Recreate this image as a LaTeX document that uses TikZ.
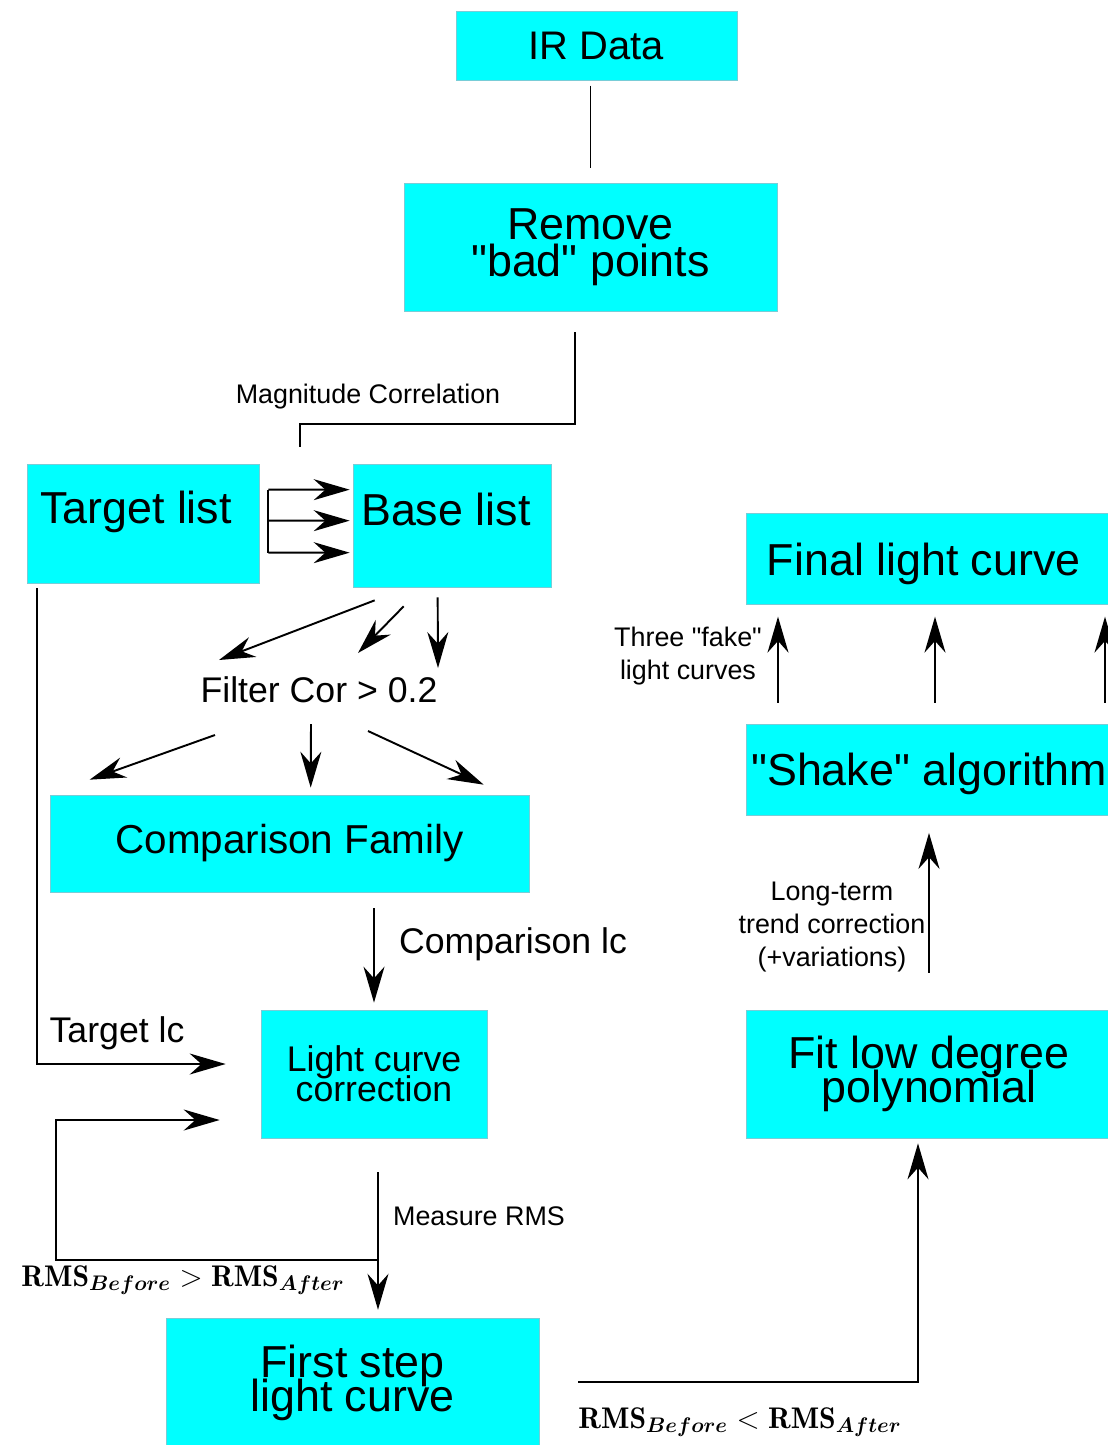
\documentclass[tikz,border=0pt]{standalone}
\usepackage{amsmath}
\usepackage{fontspec}
\setsansfont{Liberation Sans}
\usepackage{tikz}
\usetikzlibrary{arrows.meta, calc, positioning}
\definecolor{boxcyan}{RGB}{0,255,255}
\definecolor{boxedge}{RGB}{120,205,215}

\newcommand{\rmsbefore}{\mathbf{RMS}_{\boldsymbol{Before}}}
\newcommand{\rmsafter}{\mathbf{RMS}_{\boldsymbol{After}}}
\newcommand{\dq}{\textquotedbl}
\newcommand{\tightlines}{\lineskiplimit=-50pt\relax}

\begin{document}
\begin{tikzpicture}[x=0.02cm, y=-0.02cm, >={Stealth[length=0.72cm, width=0.42cm]},
    box/.style={draw=boxedge, fill=boxcyan, line width=0.4pt, inner sep=0pt, align=center,
        font=\sffamily\fontsize{25.5}{19}\selectfont\tightlines},
    conn/.style={line width=1.1pt},
    arr/.style={conn, ->},
    lbl/.style={font=\sffamily\fontsize{15.3}{19}\selectfont, align=center, inner sep=0pt},
    midlbl/.style={font=\sffamily\fontsize{20.3}{24}\selectfont, inner sep=0pt},
    rmslbl/.style={font=\fontsize{17}{20}\selectfont, inner sep=0pt}]

    \useasboundingbox (0,0) rectangle (1107,1445);

    % Boxes
    \node[box, minimum width=5.62cm, minimum height=1.38cm, font=\sffamily\fontsize{22.7}{26}\selectfont] (irdata) at (596.5,45.5) {IR Data};
    \node[box, minimum width=7.46cm, minimum height=2.56cm, font=\sffamily\fontsize{25.5}{21}\selectfont\tightlines] (remove) at (590.5,247) {Remove\\\dq bad\dq{} points};
    \node[box, minimum width=4.64cm, minimum height=2.38cm, text depth=18pt] (target) at (143,523.5) {Target list\hspace{8pt}};
    \node[box, minimum width=3.96cm, minimum height=2.46cm, text depth=18pt] (base) at (452,525.5) {Base list\hspace{7pt}};
    \node[box, minimum width=7.32cm, minimum height=1.82cm, text height=25pt] (final) at (929,558.5) {Final light curve\hspace{6pt}};
    \node[box, minimum width=7.32cm, minimum height=1.82cm, text height=24pt] (shake) at (929,769.5) {\dq Shake\dq{} algorithm};
    \node[box, minimum width=9.58cm, minimum height=1.94cm, font=\sffamily\fontsize{23}{26}\selectfont] (compfam) at (289.5,843.5) {Comparison Family};
    \node[box, minimum width=4.52cm, minimum height=2.56cm, font=\sffamily\fontsize{20.3}{17}\selectfont\tightlines] (lcc) at (374,1074) {Light curve\\correction};
    \node[box, minimum width=7.32cm, minimum height=2.56cm] (fit) at (929,1074) {Fit low degree\\polynomial};
    \node[box, minimum width=7.46cm, minimum height=2.6cm] (first) at (352.5,1383) {First step\\light curve};

    % Labels
    \node[lbl] (magcor) at (368,397) {Magnitude Correlation};
    \node[midlbl] (filter) at (319,690) {Filter Cor > 0.2};
    \node[midlbl] (complc) at (513,944) {Comparison lc};
    \node[midlbl] (targlc) at (117,1033) {Target lc};
    \node[lbl] (measrms) at (479,1216) {Measure RMS};
    \node[lbl] (fake) at (688,656) {Three \dq fake\dq\\light curves};
    \node[lbl] (trend) at (832,927) {Long-term\\trend correction\\(+variations)};
    \node[rmslbl] (rmsgt) at (183,1280) {$\rmsbefore > \rmsafter$};
    \node[rmslbl] (rmslt) at (740,1422) {$\rmsbefore < \rmsafter$};

    % Top part
    \draw[conn, shorten <=3pt, shorten >=8.5pt] (remove.north |- irdata.south) -- (remove.north);
    \coordinate (corrbend) at (300,424);
    \coordinate (corrend) at (300,447);
    \draw[conn] ($(remove.south)+(-15.5,21)$) |- (corrbend) -- (corrend);

    % Target list to Base list
    \draw[conn] ($(target.north east)+(9,26)$) -- ($(target.north east)+(9,89)$);
    \foreach \dy in {26,57,89}
        \draw[arr] ($(target.north east)+(9,\dy)$) -- ($(base.north west)+(-3,\dy)$);

    % Filter
    \draw[arr] ($(base.south west)+(22,13)$) -- ($(filter)+(-100,-30)$);
    \draw[arr] ($(base.south west)+(51,19)$) -- ($(filter)+(39,-37)$);
    \draw[arr] ($(base.south west)+(85,10)$) -- ($(filter)+(119,-22)$);
    \draw[arr] ($(filter)+(-104,45)$) -- ($(compfam.north west)+(40,-15)$);
    \draw[arr] ($(filter)+(-8,34)$) -- ($(compfam.north west)+(261,-7)$);
    \draw[arr] ($(filter)+(49,41)$) -- ($(compfam.north west)+(434,-10)$);

    % Light curve correction
    \draw[arr, shorten <=9pt, shorten >=4pt] (lcc.north |- compfam.south) -- (lcc.north);
    \draw[arr] ($(target.south west)+(10,5)$) |- ($(lcc.west)+(-35,-10)$);
    \coordinate (rmsx) at ($(lcc.south)+(4,34)$);
    \draw[arr, shorten >=4.5pt] (rmsx) -- (rmsx |- first.north);
    \draw[arr] ($(rmsx)+(0,88)$) -| ($(lcc.west)+(-205,46)$) -- ($(lcc.west)+(-41,46)$);

    % Right column
    \draw[arr] ($(first.east)+(39,-1)$) -| ($(fit.south)+(-11,5)$);
    \draw[arr, shorten <=21pt, shorten >=10pt] (fit.north) -- (shake.south);
    \foreach \dx in {-151,6,176}
        \draw[arr, shorten <=12pt, shorten >=7pt] ($(shake.north)+(\dx,0)$) -- ($(final.south)+(\dx,0)$);
\end{tikzpicture}
\end{document}
